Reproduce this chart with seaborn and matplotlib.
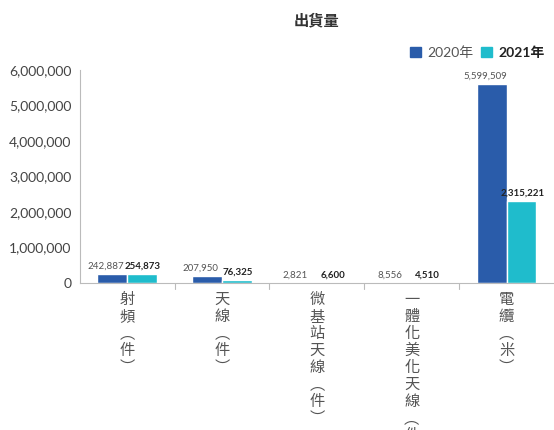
import matplotlib
matplotlib.use("Agg")
import matplotlib.pyplot as plt
import seaborn as sns
import pandas as pd
from matplotlib.ticker import FuncFormatter, FixedLocator
from matplotlib.patches import Patch

sns.set_theme(style="white")
plt.rcParams['font.family'] = ['Lato', 'Noto Sans CJK TC', 'DejaVu Sans']

categories = ["射頻（件）", "天線（件）", "微基站天線（件）", "一體化美化天線（件）", "電纜（米）"]
tick_labels = ["射\n頻\n︵\n件\n︶", "天\n線\n︵\n件\n︶", "微\n基\n站\n天\n線\n︵\n件\n︶",
               "一\n體\n化\n美\n化\n天\n線\n︵\n件\n︶", "電\n纜\n︵\n米\n︶"]
values_2020 = [242887, 207950, 2821, 8556, 5599509]
values_2021 = [254873, 76325, 6600, 4510, 2315221]
years = ["2020年", "2021年"]
colors = ["#2a5caa", "#1fbccc"]

df = pd.DataFrame({
    "category": categories * 2,
    "year": [years[0]] * 5 + [years[1]] * 5,
    "value": values_2020 + values_2021,
})

fig = plt.figure(figsize=(5.54, 4.30), dpi=100)
ax = fig.add_axes([0.144, 0.342, 0.856, 0.495])

sns.barplot(data=df, x="category", y="value", hue="year", palette=colors,
            width=0.63, gap=0, ax=ax, legend=False, saturation=1)

ax.set_ylim(0, 6000000)
ax.yaxis.set_major_locator(FixedLocator(range(0, 6000001, 1000000)))
ax.yaxis.set_major_formatter(FuncFormatter(lambda v, p: f"{int(v):,}"))
ax.tick_params(axis="y", labelsize=10, labelcolor="#444444", length=0, pad=6)
ax.set_xlim(-0.5, 4.5)
ax.set_xticks(range(5))
ax.set_xticklabels(tick_labels, fontsize=11, color="#555555", linespacing=1.0,
                   va="top", family=['Noto Sans CJK TC', 'DejaVu Sans'])
ax.tick_params(axis="x", length=0, pad=6)
ax.set_xlabel("")
ax.set_ylabel("")

# short separators between categories below the baseline
for xb in [0.5, 1.5, 2.5, 3.5]:
    ax.plot([xb, xb], [0, -0.03], transform=ax.get_xaxis_transform(),
            color="#bbbbbb", lw=0.8, clip_on=False)

for s in ["top", "right"]:
    ax.spines[s].set_visible(False)
for s in ["left", "bottom"]:
    ax.spines[s].set_color("#bbbbbb")
    ax.spines[s].set_linewidth(0.8)

# value labels
for i, (b0, b1) in enumerate(zip(ax.containers[0], ax.containers[1])):
    ax.text(b0.get_x() + b0.get_width() / 2 - 0.07, b0.get_height() + 90000,
            f"{values_2020[i]:,}", ha="center", va="bottom", fontsize=7,
            color="#555555")
    ax.text(b1.get_x() + b1.get_width() / 2 + 0.01, b1.get_height() + 90000,
            f"{values_2021[i]:,}", ha="center", va="bottom", fontsize=7,
            color="#222222", fontweight="bold")

fig.text(0.572, 0.953, "出貨量", ha="center", va="center", fontsize=11,
         fontweight="bold", color="#333333", family=['Noto Sans CJK TC'])

# legend
handles = [Patch(color=colors[0]), Patch(color=colors[1])]
leg = fig.legend(handles, years, loc="center right", bbox_to_anchor=(1.005, 0.878),
                 ncol=2, frameon=False, handlelength=0.8, handleheight=0.8,
                 handletextpad=0.4, columnspacing=0.6,
                 prop={'family': ['Lato', 'Noto Sans CJK TC'], 'size': 10})
leg.get_texts()[0].set_color("#555555")
leg.get_texts()[1].set_color("#222222")
leg.get_texts()[1].set_fontweight("bold")

fig.savefig("out.png", dpi=100)
